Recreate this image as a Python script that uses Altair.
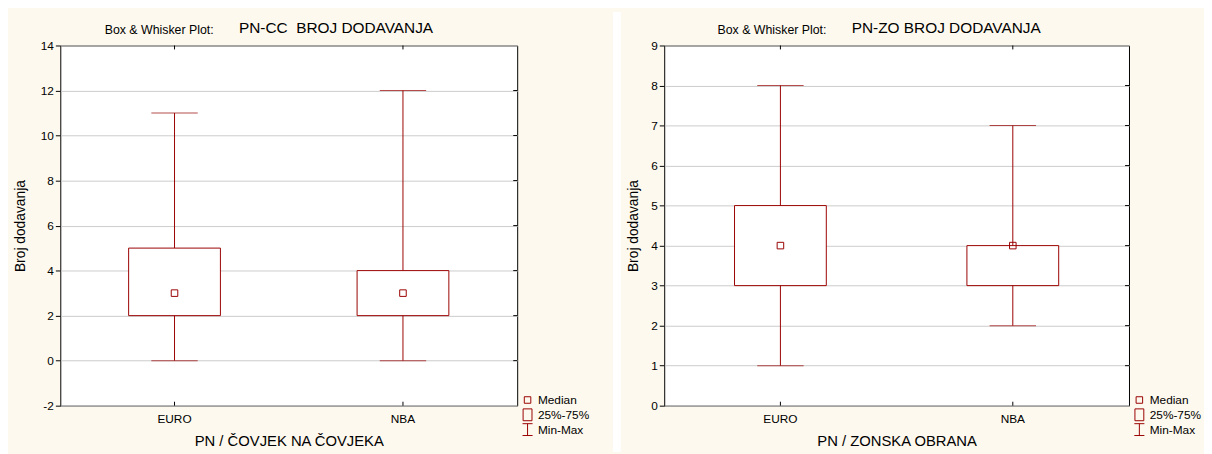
import altair as alt
import pandas as pd

categories = ["EURO", "NBA"]

cc_min = [0, 0]
cc_q1 = [2, 2]
cc_med = [3, 3]
cc_q3 = [5, 4]
cc_max = [11, 12]

zo_min = [1, 2]
zo_q1 = [3, 3]
zo_med = [4, 4]
zo_q3 = [5, 4]
zo_max = [8, 7]

cc_ticks = [-2, 0, 2, 4, 6, 8, 10, 12, 14]
zo_ticks = [0, 1, 2, 3, 4, 5, 6, 7, 8, 9]

legend_labels = ["Median", "25%-75%", "Min-Max"]
legend_paths = [
    "M-0.55,-0.55H0.55V0.55H-0.55Z",
    "M-0.75,-1H0.75V1H-0.75Z",
    "M-0.85,-1H0.85M0,-1V1M-0.85,1H0.85",
]

DR = "#990000"
CREAM = "#FDF9EE"
FONT = "Liberation Sans"
H = 365


def panel(mins, q1s, meds, q3s, maxs, ticks, title, xtitle, width, small_x, big_x, ytp,
          separator=False):
    df = pd.DataFrame({"cat": categories, "mn": mins, "q1": q1s, "med": meds, "q3": q3s, "mx": maxs})
    base = alt.Chart(df)
    xs = alt.Scale(type="band", domain=categories, paddingInner=0, paddingOuter=0)
    ys = alt.Scale(domain=[ticks[0], ticks[-1]], nice=False, zero=False)
    x = alt.X("cat:N", scale=xs, sort=categories,
              axis=alt.Axis(title=xtitle, labelAngle=0, tickSize=0, labelPadding=8,
                            titlePadding=9, titleFontSize=15, labelFontSize=12, domain=False,
                            grid=False, titleFontWeight="normal", labelColor="black", titleColor="black"))
    yax = alt.Axis(title="Broj dodavanja", values=ticks, labelExpr="datum.value + ''", tickSize=5,
                   tickColor="black", labelPadding=2, titlePadding=ytp, titleFontSize=14, labelFontSize=12,
                   titleFontWeight="normal", domain=False, grid=True, gridColor="#CBCBCB",
                   labelColor="black", titleColor="black")

    whisk = base.mark_rule(color=DR, strokeWidth=1).encode(
        x=x, y=alt.Y("mn:Q", scale=ys, axis=yax), y2="mx:Q")
    box = base.mark_bar(size=93, fill="white", stroke=DR, strokeWidth=1).encode(
        x="cat:N", y="q1:Q", y2="q3:Q")
    cap_lo = base.mark_tick(size=47, thickness=1, color=DR).encode(x="cat:N", y="mn:Q")
    cap_hi = base.mark_tick(size=47, thickness=1, color=DR).encode(x="cat:N", y="mx:Q")
    med = base.mark_point(shape="square", size=44, filled=False, color=DR, strokeWidth=1, opacity=1).encode(
        x="cat:N", y="med:Q")

    top_t = base.mark_rule(color="black").encode(x="cat:N", y=alt.value(0), y2=alt.value(4))
    bot_t = base.mark_rule(color="black").encode(x="cat:N", y=alt.value(H - 4), y2=alt.value(H))
    tdf = pd.DataFrame({"t": ticks[1:-1]})
    right_t = alt.Chart(tdf).mark_rule(color="black").encode(
        y="t:Q", x=alt.value(width - 4), x2=alt.value(width))

    ldf = pd.DataFrame({"lab": legend_labels})
    leg = alt.Chart(ldf).mark_point(filled=False, color=DR, opacity=0).encode(
        x=alt.value(0), y=alt.value(0),
        shape=alt.Shape("lab:N", sort=legend_labels,
                        scale=alt.Scale(domain=legend_labels, range=legend_paths),
                        legend=alt.Legend(title=None, orient="none", legendX=width + 4, legendY=H - 13,
                                          symbolSize=144, symbolStrokeWidth=1, symbolOpacity=1,
                                          symbolStrokeColor=DR, labelFontSize=12, labelColor="black",
                                          labelOffset=4, rowPadding=0, clipHeight=14.5, padding=0,
                                          labelFont=FONT)))

    one = pd.DataFrame({"a": [0]})
    small = alt.Chart(one).mark_text(align="left", baseline="alphabetic", fontSize=12.5, font=FONT,
                                     color="black").encode(
        x=alt.value(small_x), y=alt.value(-12), text=alt.value("Box & Whisker Plot:"))
    big = alt.Chart(one).mark_text(align="left", baseline="alphabetic", fontSize=15.6, font=FONT,
                                   color="black").encode(
        x=alt.value(big_x), y=alt.value(-12.5), text=alt.value(title))

    layers = [whisk, box, cap_lo, cap_hi, med, top_t, bot_t, right_t, leg, small, big]
    if separator:
        sep = alt.Chart(one).mark_rect(color="white").encode(
            x=alt.value(-52), x2=alt.value(-44), y=alt.value(-34), y2=alt.value(H + 47))
        layers.append(sep)
    return alt.layer(*layers).properties(width=width, height=H)


left = panel(cc_min, cc_q1, cc_med, cc_q3, cc_max, cc_ticks, "PN-CC\u00a0 BROJ DODAVANJA",
             "PN / ČOVJEK NA ČOVJEKA", 463, 45, 181, 13)
right = panel(zo_min, zo_q1, zo_med, zo_q3, zo_max, zo_ticks, "PN-ZO BROJ DODAVANJA",
              "PN / ZONSKA OBRANA", 471, 54, 190, 10, separator=True)

chart = alt.hconcat(left, right, spacing=21).resolve_scale(shape="independent").properties(
    background=CREAM,
    padding={"left": 5, "top": 0, "right": 1, "bottom": 0},
).configure(font=FONT).configure_view(stroke="black", strokeWidth=1, fill="white")

chart.save("out.html", embed_options={"renderer": "svg", "actions": False})
